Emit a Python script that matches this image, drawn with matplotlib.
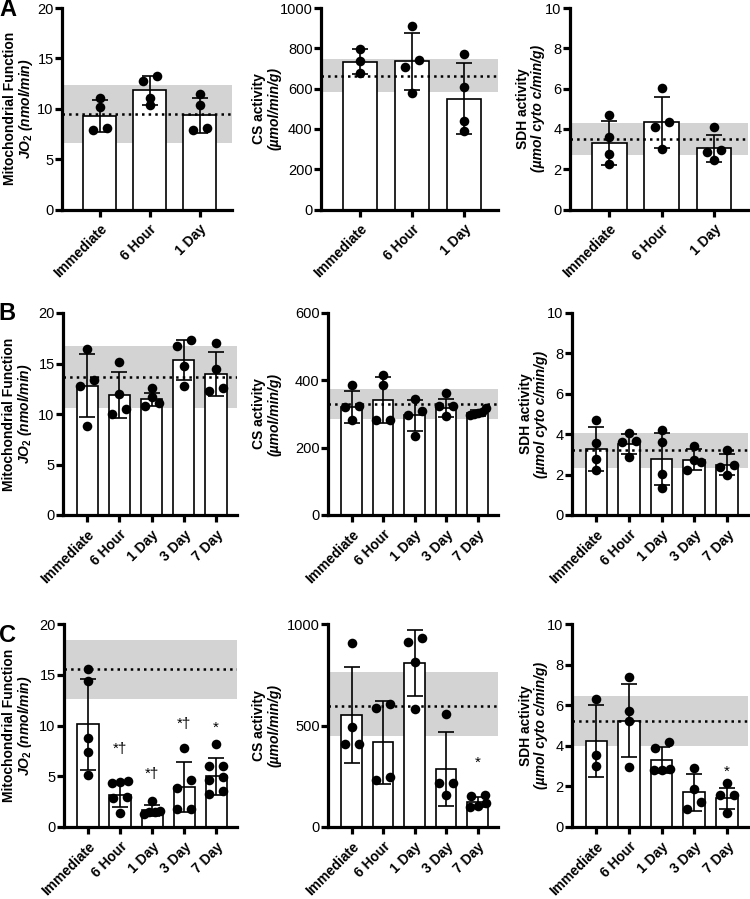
import numpy as np
import matplotlib
matplotlib.use("Agg")
import matplotlib.pyplot as plt

plt.rcParams['font.family'] = ['Liberation Sans', 'DejaVu Sans']
plt.rcParams['mathtext.fontset'] = 'custom'
plt.rcParams['mathtext.it'] = 'Liberation Sans:italic:bold'
plt.rcParams['mathtext.rm'] = 'Liberation Sans:bold'
plt.rcParams['mathtext.bf'] = 'Liberation Sans:bold'

# ---- data ----
GROUPS_A = ["Immediate", "6 Hour", "1 Day"]
GROUPS_BC = ["Immediate", "6 Hour", "1 Day", "3 Day", "7 Day"]

# row A
A_MITO_MEAN = [9.25, 11.84, 9.35]
A_MITO_SD = [1.6, 1.45, 1.76]
A_MITO_PTS = [[11.1, 10.2, 8.1, 7.9], [13.3, 12.8, 11.1, 10.35], [11.5, 10.35, 8.1, 7.9]]
A_MITO_REF = [6.63, 9.52, 12.4]

A_CS_MEAN = [734, 735, 550]
A_CS_SD = [62, 143, 175]
A_CS_PTS = [[798, 736, 677], [912, 741, 707, 578], [771, 607, 438, 388]]
A_CS_REF = [581, 665, 746]

A_SDH_MEAN = [3.28, 4.33, 3.03]
A_SDH_SD = [1.09, 1.26, 0.67]
A_SDH_PTS = [[4.71, 3.58, 2.75, 2.25], [6.05, 4.33, 4.1, 3.0], [4.08, 2.95, 2.86, 2.46]]
A_SDH_REF = [2.7, 3.5, 4.31]

# row B
B_MITO_MEAN = [12.8, 11.9, 11.47, 15.37, 13.98]
B_MITO_SD = [3.14, 2.25, 0.65, 2.0, 2.18]
B_MITO_PTS = [[16.46, 13.4, 12.8, 8.83], [15.14, 11.97, 10.5, 10.0], [12.6, 11.67, 11.07, 10.8],
              [17.29, 16.76, 14.8, 12.8], [17.02, 14.48, 12.56, 12.23]]
B_MITO_REF = [10.58, 13.65, 16.76]

B_CS_MEAN = [320, 341, 296, 318, 303]
B_CS_SD = [47, 69, 47, 28, 8]
B_CS_PTS = [[385, 325, 321, 281], [415, 385, 282, 282], [345, 308, 298, 234],
            [361, 325, 323, 293], [318, 305, 301, 298, 302]]
B_CS_REF = [285, 330, 375]

B_SDH_MEAN = [3.28, 3.5, 2.78, 2.74, 2.5]
B_SDH_SD = [1.09, 0.5, 1.3, 0.52, 0.5]
B_SDH_PTS = [[4.71, 3.58, 2.75, 2.25], [4.04, 3.65, 3.62, 2.85], [4.21, 3.63, 2.05, 1.35],
             [3.4, 2.7, 2.6, 2.25], [3.2, 2.5, 2.4, 2.0]]
B_SDH_REF = [2.35, 3.2, 4.08]

# row C
C_MITO_MEAN = [10.1, 3.19, 1.64, 3.95, 5.0]
C_MITO_SD = [4.47, 1.24, 0.51, 2.43, 1.84]
C_MITO_PTS = [[15.53, 14.38, 8.78, 7.34, 5.1], [4.5, 4.4, 4.3, 3.0, 2.9, 1.4], [2.6, 1.6, 1.5, 1.5, 1.3],
              [7.8, 4.6, 3.88, 1.81, 1.81], [8.2, 6.0, 6.0, 4.9, 4.6, 3.5, 3.3]]
C_MITO_REF = [12.6, 15.53, 18.42]
C_MITO_SIG = ["", "*†", "*†", "*†", "*"]
C_MITO_SIG_Y = [0, 7.7, 5.2, 10.1, 9.8]

C_CS_MEAN = [550, 417, 807, 284, 124]
C_CS_SD = [237, 205, 161, 182, 25]
C_CS_PTS = [[904, 491, 410, 410], [607, 587, 248, 231], [929, 912, 813, 579],
            [557, 218, 215, 160], [157, 152, 119, 102, 99]]
C_CS_REF = [450, 598, 764]
C_CS_SIG = ["", "", "", "", "*"]
C_CS_SIG_Y = [0, 0, 0, 0, 314]

C_SDH_MEAN = [4.23, 5.24, 3.28, 1.71, 1.41]
C_SDH_SD = [1.78, 1.81, 0.64, 0.91, 0.5]
C_SDH_PTS = [[6.3, 3.55, 3.0], [7.38, 5.72, 5.24, 2.95], [4.2, 3.87, 2.87, 2.8, 2.8],
             [2.9, 1.87, 1.21, 0.88], [2.16, 1.58, 1.58, 0.71]]
C_SDH_REF = [4.0, 5.24, 6.47]
C_SDH_SIG = ["", "", "", "", "*"]
C_SDH_SIG_Y = [0, 0, 0, 0, 2.7]

MITO_TICKS = [0, 5, 10, 15, 20]
SDH_TICKS = [0, 2, 4, 6, 8, 10]

# ---- layout (pixels) ----
W, H = 750, 899
fig = plt.figure(figsize=(W / 100, H / 100), dpi=100)

ROWS_Y = [(8, 209.5), (313, 515), (624, 827)]
COLS_X = [[(62, 232), (321, 498), (570, 748)],
          [(63, 237), (328, 498), (572, 748)],
          [(64, 237), (328, 498), (572, 748)]]
LABEL_X = [[(10, 26), (259, 275), (523, 538)],
           [(9, 25), (259, 275), (526, 541)],
           [(9, 25), (259, 275), (526, 541)]]

SPINE_W = 2.3


def swarm(vals, px_y, px_x, thr=7.5, gap=14, maxw=16):
    # spread points that sit at about the same height, centred on the bar
    vals = np.asarray(vals, float)
    order = np.argsort(vals)
    rows = []
    for i in order:
        if rows and abs(vals[i] - vals[rows[-1][0]]) * px_y < thr:
            rows[-1].append(i)
        else:
            rows.append([i])
    offs = np.zeros(len(vals))
    for r in rows:
        n = len(r)
        if n == 1:
            continue
        step = min((n - 1) * gap, maxw) / (n - 1)
        for k, i in enumerate(r):
            offs[i] = (k - (n - 1) / 2) * step / px_x
    return offs


def panel(r, c, groups, mean, sd, pts, ref, ymax, yticks, lab1, lab2, sig=None, sig_y=None):
    y0, y1 = ROWS_Y[r]
    x0, x1 = COLS_X[r][c]
    ax = fig.add_axes([x0 / W, 1 - y1 / H, (x1 - x0) / W, (y1 - y0) / H])
    n = len(groups)
    x = np.arange(n)
    xlim = (-0.75, n - 0.35)
    ax.set_xlim(*xlim)
    ax.set_ylim(0, ymax)

    ax.axhspan(ref[0], ref[2], color='#d3d3d3', lw=0, zorder=0)
    ax.bar(x, mean, width=0.66, color='white', edgecolor='black', linewidth=1.2, zorder=2)
    ax.axhline(ref[1], color='black', ls=':', lw=1.8, zorder=3)
    ax.errorbar(x, mean, yerr=sd, fmt='none', ecolor='black', elinewidth=1.2,
                capsize=6, capthick=1.2, zorder=4)

    px_y = (y1 - y0) / ymax
    px_x = (x1 - x0) / (xlim[1] - xlim[0])
    for i, p in enumerate(pts):
        offs = swarm(p, px_y, px_x)
        ax.scatter(i + offs, p, s=48, color='black', zorder=5, linewidths=0)

    if sig:
        for i, s in enumerate(sig):
            if s:
                ax.text(i, sig_y[i], s, ha='center', va='center', fontsize=11)

    for sp in ['top', 'right']:
        ax.spines[sp].set_visible(False)
    for sp in ['left', 'bottom']:
        ax.spines[sp].set_linewidth(SPINE_W)
    ax.set_yticks(yticks)
    ax.set_xticks(x)
    ax.set_xticklabels(groups, rotation=45, ha='right', rotation_mode='anchor',
                       fontweight='bold', fontsize=10)
    ax.tick_params(axis='y', width=SPINE_W, length=5, labelsize=10.5, pad=1)
    ax.tick_params(axis='x', width=SPINE_W, length=5, pad=4)

    yc = 1 - (y0 + y1) / 2 / H
    lx1, lx2 = LABEL_X[r][c]
    fig.text(lx1 / W, yc, lab1, rotation=90, ha='center', va='center',
             fontsize=10, fontweight='bold')
    fig.text(lx2 / W, yc, lab2, rotation=90, ha='center', va='center',
             fontsize=10, fontweight='bold', fontstyle='italic')
    return ax


MITO1 = "Mitochondrial Function"
MITO2 = r"$JO_2$ (nmol/min)"
CS1 = "CS activity"
CS2 = "(µmol/min/g)"
SDH1 = "SDH activity"
SDH2 = "(µmol cyto c/min/g)"

panel(0, 0, GROUPS_A, A_MITO_MEAN, A_MITO_SD, A_MITO_PTS, A_MITO_REF, 20, MITO_TICKS, MITO1, MITO2)
panel(0, 1, GROUPS_A, A_CS_MEAN, A_CS_SD, A_CS_PTS, A_CS_REF, 1000, [0, 200, 400, 600, 800, 1000], CS1, CS2)
panel(0, 2, GROUPS_A, A_SDH_MEAN, A_SDH_SD, A_SDH_PTS, A_SDH_REF, 10, SDH_TICKS, SDH1, SDH2)

panel(1, 0, GROUPS_BC, B_MITO_MEAN, B_MITO_SD, B_MITO_PTS, B_MITO_REF, 20, MITO_TICKS, MITO1, MITO2)
panel(1, 1, GROUPS_BC, B_CS_MEAN, B_CS_SD, B_CS_PTS, B_CS_REF, 600, [0, 200, 400, 600], CS1, CS2)
panel(1, 2, GROUPS_BC, B_SDH_MEAN, B_SDH_SD, B_SDH_PTS, B_SDH_REF, 10, SDH_TICKS, SDH1, SDH2)

panel(2, 0, GROUPS_BC, C_MITO_MEAN, C_MITO_SD, C_MITO_PTS, C_MITO_REF, 20, MITO_TICKS, MITO1, MITO2,
      C_MITO_SIG, C_MITO_SIG_Y)
panel(2, 1, GROUPS_BC, C_CS_MEAN, C_CS_SD, C_CS_PTS, C_CS_REF, 1000, [0, 500, 1000], CS1, CS2,
      C_CS_SIG, C_CS_SIG_Y)
panel(2, 2, GROUPS_BC, C_SDH_MEAN, C_SDH_SD, C_SDH_PTS, C_SDH_REF, 10, SDH_TICKS, SDH1, SDH2,
      C_SDH_SIG, C_SDH_SIG_Y)

for letter, (lx, ly) in zip("ABC", [(8, 10), (7, 314), (8, 636)]):
    fig.text(lx / W, 1 - ly / H, letter, ha='center', va='center', fontsize=17, fontweight='bold')

fig.savefig("out.png", dpi=100)
